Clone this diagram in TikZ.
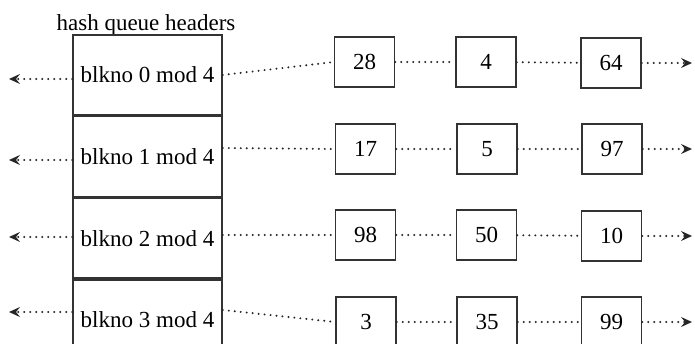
\documentclass[tikz,border=0pt]{standalone}
\usepackage{fontspec}
\setmainfont{Liberation Serif}
\usetikzlibrary{arrows.meta}
\begin{document}
\begin{tikzpicture}[x=1pt,y=-1pt,
  ink/.style={draw=black!80},
  txt/.style={font=\fontsize{23}{26}\selectfont},
  cell/.style={ink,txt,line width=1.6pt,minimum width=149pt,minimum height=80pt,inner sep=0pt},
  buf/.style={ink,txt,line width=1.6pt,minimum width=60pt,minimum height=50pt,inner sep=0pt},
  link/.style={draw=black!85,line width=2.2pt,line cap=round,dash pattern=on 0pt off 6pt},
  tip/.style={-{Stealth[length=11pt,width=10pt,inset=4pt,line width=0pt]}}]
\useasboundingbox (0,0) rectangle (695,344);
\fill[white] (0,0) rectangle (695,344);
\begin{scope}
\clip (0,0) rectangle (695,344);
\node[txt] (title) at (146,25) {hash queue headers};
\node[cell] (h0) at (147.5,75) {blkno 0 mod 4};
\node[cell,anchor=north] (h1) at (h0.south) {blkno 1 mod 4};
\node[cell,anchor=north] (h2) at (h1.south) {blkno 2 mod 4};
\node[cell,anchor=north] (h3) at (h2.south) {blkno 3 mod 4};
% buffers
\node[buf] (b28) at (364.5,62) {28};
\node[buf] (b4)  at (486,62)  {4};
\node[buf] (b64) at (611,63)  {64};
\node[buf] (b17) at (365.5,149) {17};
\node[buf] (b5)  at (487,149) {5};
\node[buf] (b97) at (612,149) {97};
\node[buf] (b98) at (365.5,235) {98};
\node[buf] (b50) at (486.5,235) {50};
\node[buf] (b10) at (611.5,236) {10};
\node[buf] (b3)  at (366,322) {3};
\node[buf] (b35) at (487,322) {35};
\node[buf] (b99) at (611.5,322) {99};
% outer ends
\coordinate (l0) at (9,79);
\coordinate (l1) at (9,160);
\coordinate (l2) at (9,237);
\coordinate (l3) at (9,312);
\coordinate (r0) at (692,63);
\coordinate (r1) at (692,149);
\coordinate (r2) at (692,236);
\coordinate (r3) at (692,322);
% left arrows
\draw[link,tip] (h0.west |- l0) -- (l0);
\draw[link,tip] (h1.west |- l1) -- (l1);
\draw[link,tip] (h2.west |- l2) -- (l2);
\draw[link,tip] (h3.west |- l3) -- (l3);
% header to first buffer
\draw[link] (h0.east |- 0,75) -- (b28.west);
\draw[link] (h1.east |- 0,148) -- (b17.west);
\draw[link] (h2.east |- 0,235) -- (b98.west);
\draw[link] (h3.east |- 0,310) -- (b3.west);
% between buffers
\draw[link] (b28) -- (b4);
\draw[link] (b4) -- (b64);
\draw[link] (b17) -- (b5);
\draw[link] (b5) -- (b97);
\draw[link] (b98) -- (b50);
\draw[link] (b50) -- (b10);
\draw[link] (b3) -- (b35);
\draw[link] (b35) -- (b99);
% right arrows
\draw[link,tip] (b64.east |- r0) -- (r0);
\draw[link,tip] (b97.east |- r1) -- (r1);
\draw[link,tip] (b10.east |- r2) -- (r2);
\draw[link,tip] (b99.east |- r3) -- (r3);
\end{scope}
\end{tikzpicture}
\end{document}
